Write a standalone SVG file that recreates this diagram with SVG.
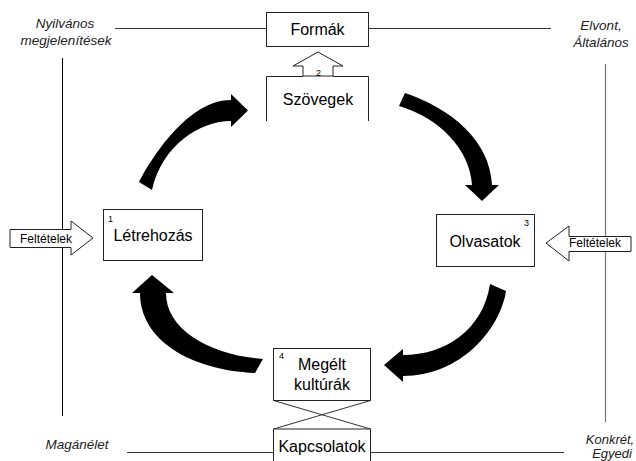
<svg xmlns="http://www.w3.org/2000/svg" width="636" height="461" viewBox="0 0 636 461">
<style>
.box{fill:#fff;stroke:#222;stroke-width:1}
.t{font-family:"Liberation Sans",Arial,sans-serif;font-size:16px;fill:#000;text-anchor:middle}
.n{font-family:"Liberation Sans",Arial,sans-serif;font-size:9px;fill:#000}
.lab{font-family:"Liberation Sans",Arial,sans-serif;font-size:13.5px;font-style:italic;fill:#222;text-anchor:middle}
.small{font-family:"Liberation Sans",Arial,sans-serif;font-size:12px;fill:#000;text-anchor:middle}
.ln{stroke:#333;stroke-width:1;fill:none}
.hollow{fill:#fff;stroke:#222;stroke-width:1}
.curve{fill:#000;stroke:none}
</style>
<rect width="636" height="461" fill="#fff"/>
<g id="axes">
<line class="ln" x1="115" y1="28.5" x2="266" y2="28.5"/>
<line class="ln" x1="369" y1="28.5" x2="551" y2="28.5"/>
<line class="ln" x1="127" y1="452.5" x2="273" y2="452.5"/>
<line class="ln" x1="371" y1="452.5" x2="564" y2="452.5"/>
<line x1="62.5" y1="58" x2="62.5" y2="416" stroke="#000" stroke-width="1"/>
<line x1="605.5" y1="64" x2="605.5" y2="422" stroke="#777" stroke-width="1.2"/>
</g>
<g id="labels">
<text class="lab" x="65" y="28">Nyilvános</text>
<text class="lab" x="66" y="45">megjelenítések</text>
<text class="lab" x="601" y="30">Elvont,</text>
<text class="lab" x="601" y="47">Általános</text>
<text class="lab" x="77" y="449">Magánélet</text>
<text class="lab" x="610" y="444" style="font-size:13px">Konkrét,</text>
<text class="lab" x="612" y="458" style="font-size:13px">Egyedi</text>
</g>
<g id="connectors">
<path class="curve" d="M139,182 C155,152 190,100 231,100 L231,94 L248,110.5 L231,127 L231,121 C200,121 162,145 152,190 Z"/>
<path class="curve" d="M405,93 C450,108 490,140 492,185 L499,185 L482,201 L465,185 L472,185 C470,150 440,118 399,106 Z"/>
<path class="curve" d="M490,284 C483,330 445,355 403,355 L403,349 L384,365 L403,382 L403,376 C460,376 500,330 506,291 Z"/>
<path class="curve" d="M140,293 C140,340 190,370 255,373 L263,359 C210,355 166,330 166,293 L174,293 L152,275 L132,293 Z"/>
</g>
<g id="formak">
<rect class="box" x="266.5" y="12.5" width="102" height="34"/>
<text class="t" x="317.5" y="35">Formák</text>
</g>
<g id="up-arrow">
<polygon class="hollow" points="303,76 303,66 293,66 318,52 343,66 333,66 333,76"/>
</g>
<g id="szovegek">
<path class="box" d="M266.5,121 V76.5 H303 M333,76.5 H368.5 V121"/>
<text class="n" x="316" y="76">2</text>
<text class="t" x="318" y="105">Szövegek</text>
</g>
<g id="letrehozas">
<rect class="box" x="103.5" y="209.5" width="99" height="51"/>
<text class="n" x="108" y="222">1</text>
<text class="t" x="153" y="241">Létrehozás</text>
</g>
<g id="feltetelek-left">
<polygon class="hollow" points="10,229.5 71,229.5 71,221 93,238 71,255 71,247.5 10,247.5"/>
<text class="small" x="46" y="243">Feltételek</text>
</g>
<g id="olvasatok">
<rect class="box" x="436.5" y="214.5" width="98" height="52"/>
<text class="n" x="524" y="226">3</text>
<text class="t" x="485" y="247">Olvasatok</text>
</g>
<g id="feltetelek-right">
<polygon class="hollow" points="631,236.5 569,236.5 569,226 546,243 569,261 569,251.5 631,251.5"/>
<text class="small" x="595" y="247">Feltételek</text>
</g>
<g id="megelt">
<rect class="box" x="273.5" y="348.5" width="97" height="52"/>
<text class="n" x="279" y="359">4</text>
<text class="t" x="322" y="370">Megélt</text>
<text class="t" x="322" y="390">kultúrák</text>
</g>
<g id="cross">
<line class="ln" x1="273.5" y1="400.5" x2="370.5" y2="429"/>
<line class="ln" x1="370.5" y1="400.5" x2="273.5" y2="429"/>
</g>
<g id="kapcsolatok">
<rect class="box" x="273.5" y="429" width="97" height="40"/>
<text class="t" x="322" y="452">Kapcsolatok</text>
</g>
</svg>
